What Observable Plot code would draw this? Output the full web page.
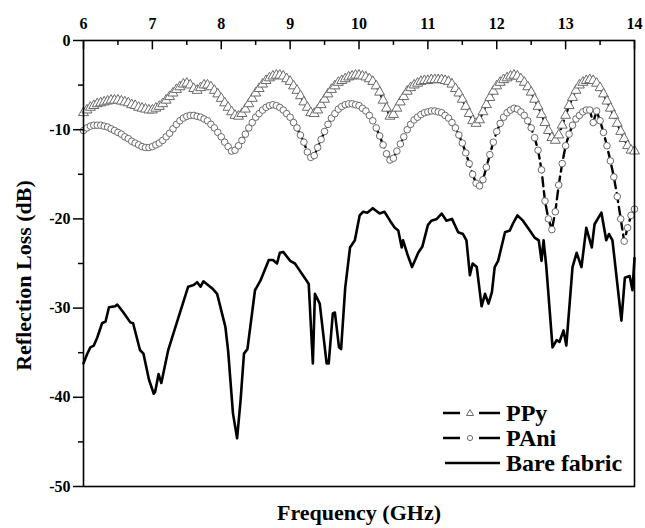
<!DOCTYPE html>
<html><head><meta charset="utf-8">
<script src="https://cdn.jsdelivr.net/npm/d3@7"></script>
<script src="https://cdn.jsdelivr.net/npm/@observablehq/plot@0.6"></script>
<style>
body{margin:0;background:#fff;}
#wrap{position:relative;width:645px;height:528px;font-family:"Liberation Serif","Times New Roman",serif;font-weight:bold;}
.leg{position:absolute;left:443px;height:24px;display:flex;align-items:center;font-size:24px;color:#000;white-space:nowrap;line-height:24px;}
.leg svg{margin-right:5px;display:block;}
</style></head><body><div id="wrap"></div>
<script>
const freq = [
6,6.05,6.1,6.15,6.2,6.25,6.3,6.35,6.4,6.45,6.5,6.55,6.6,6.65,6.7,6.75,6.8,6.85,6.9,6.95,
7,7.05,7.1,7.15,7.2,7.25,7.3,7.35,7.4,7.45,7.5,7.55,7.6,7.65,7.7,7.75,7.8,7.85,7.9,7.95,
8,8.05,8.1,8.15,8.2,8.25,8.3,8.35,8.4,8.45,8.5,8.55,8.6,8.65,8.7,8.75,8.8,8.85,8.9,8.95,
9,9.05,9.1,9.15,9.2,9.25,9.3,9.35,9.4,9.45,9.5,9.55,9.6,9.65,9.7,9.75,9.8,9.85,9.9,9.95,
10,10.05,10.1,10.15,10.2,10.25,10.3,10.35,10.4,10.45,10.5,10.55,10.6,10.65,10.7,10.75,10.8,10.85,10.9,10.95,
11,11.05,11.1,11.15,11.2,11.25,11.3,11.35,11.4,11.45,11.5,11.55,11.6,11.65,11.7,11.75,11.8,11.85,11.9,11.95,
12,12.05,12.1,12.15,12.2,12.25,12.3,12.35,12.4,12.45,12.5,12.55,12.6,12.65,12.7,12.75,12.8,12.85,12.9,12.95,
13,13.05,13.1,13.15,13.2,13.25,13.3,13.35,13.4,13.45,13.5,13.55,13.6,13.65,13.7,13.75,13.8,13.85,13.9,13.95,
14];
const ppy = [
-8.1,-7.8,-7.5,-7.3,-7.1,-7.0,-6.9,-6.8,-6.7,-6.7,-6.7,-6.8,-6.9,-7.0,-7.2,-7.3,-7.5,-7.6,-7.7,-7.8,
-7.8,-7.6,-7.4,-7.1,-6.7,-6.3,-5.9,-5.5,-5.2,-4.9,-4.8,-5.0,-5.4,-5.6,-5.3,-5.0,-5.0,-5.2,-5.6,-6.0,
-6.5,-7.0,-7.5,-8.0,-8.4,-8.5,-8.2,-7.7,-7.1,-6.5,-5.9,-5.4,-4.9,-4.5,-4.2,-4.0,-3.9,-3.9,-4.0,-4.3,
-4.6,-5.1,-5.6,-6.2,-6.9,-7.5,-8.1,-8.2,-7.8,-7.2,-6.6,-6.0,-5.5,-5.1,-4.7,-4.5,-4.3,-4.1,-4.0,-3.9,
-3.9,-4.0,-4.1,-4.3,-4.6,-5.1,-5.8,-6.7,-7.6,-8.5,-8.3,-7.6,-6.9,-6.3,-5.7,-5.3,-5.0,-4.8,-4.6,-4.5,
-4.5,-4.4,-4.4,-4.4,-4.4,-4.5,-4.6,-4.9,-5.4,-5.9,-6.6,-7.4,-8.2,-9.0,-9.3,-8.9,-8.0,-7.2,-6.4,-5.7,
-5.1,-4.7,-4.4,-4.2,-4.0,-3.9,-4.0,-4.3,-4.7,-5.2,-5.8,-6.6,-7.4,-8.3,-9.2,-10.1,-10.9,-11.2,-10.6,-9.5,
-8.4,-7.3,-6.4,-5.6,-5.0,-4.7,-4.5,-4.4,-4.5,-4.8,-5.3,-6.0,-6.8,-7.6,-8.4,-9.3,-10.2,-11.0,-11.8,-12.3,
-12.4];
const pani = [
-10.1,-9.8,-9.6,-9.5,-9.5,-9.5,-9.6,-9.7,-9.9,-10.1,-10.3,-10.5,-10.8,-11.0,-11.3,-11.5,-11.7,-11.9,-12.0,-12.0,
-11.9,-11.7,-11.5,-11.2,-10.8,-10.4,-9.9,-9.4,-9.0,-8.7,-8.5,-8.4,-8.4,-8.5,-8.6,-8.8,-9.0,-9.4,-9.8,-10.3,
-10.8,-11.4,-11.9,-12.4,-12.3,-11.8,-11.2,-10.5,-9.8,-9.2,-8.6,-8.2,-7.8,-7.5,-7.3,-7.2,-7.3,-7.5,-7.8,-8.2,
-8.6,-9.2,-9.8,-10.6,-11.4,-12.5,-13.1,-12.9,-12.0,-11.1,-10.2,-9.4,-8.7,-8.2,-7.7,-7.4,-7.2,-7.1,-7.1,-7.2,
-7.3,-7.6,-7.9,-8.4,-9.0,-9.8,-10.7,-11.7,-12.7,-13.4,-13.2,-12.4,-11.6,-10.8,-10.0,-9.4,-8.9,-8.6,-8.3,-8.1,
-8.0,-7.9,-7.9,-8.0,-8.1,-8.4,-8.7,-9.2,-9.8,-10.6,-11.5,-12.6,-13.8,-15.0,-16.0,-16.3,-15.6,-14.2,-12.8,-11.4,
-10.2,-9.3,-8.6,-8.1,-7.8,-7.6,-7.7,-8.0,-8.4,-9.0,-9.8,-10.9,-12.3,-14.5,-18.0,-20.0,-21.2,-19.2,-16.2,-13.8,
-11.8,-10.5,-9.5,-8.8,-8.4,-8.0,-7.8,-7.8,-9.2,-7.9,-9.0,-10.3,-11.8,-13.5,-15.3,-17.5,-20.0,-22.5,-21.0,-19.6,
-18.9];
const bareFreq = [
6.00,6.05,6.10,6.15,6.20,6.27,6.32,6.37,6.46,6.49,6.58,6.68,6.72,6.82,6.87,6.95,7.02,7.04,7.09,7.13,
7.23,7.38,7.52,7.60,7.65,7.70,7.74,7.87,7.94,8.06,8.10,8.17,8.23,8.28,8.33,8.38,8.49,8.57,8.69,8.75,
8.81,8.85,8.90,9.00,9.07,9.14,9.22,9.27,9.33,9.36,9.43,9.53,9.56,9.62,9.65,9.71,9.74,9.80,9.87,9.94,
10.01,10.06,10.12,10.20,10.30,10.37,10.45,10.52,10.57,10.62,10.64,10.70,10.77,10.86,10.92,11.00,11.05,11.13,11.20,11.27,
11.35,11.44,11.51,11.56,11.61,11.65,11.71,11.78,11.83,11.88,11.93,11.97,12.02,12.12,12.19,12.23,12.30,12.38,12.48,12.55,
12.61,12.65,12.68,12.72,12.81,12.87,12.91,12.97,13.01,13.10,13.16,13.23,13.30,13.38,13.42,13.52,13.59,13.63,13.68,13.81,
13.86,13.93,13.97,14.00];
const bareRL = [
-36.2,-35.2,-34.4,-34.2,-33.3,-31.7,-31.5,-29.9,-29.8,-29.6,-30.5,-31.6,-31.7,-34.7,-35.1,-38.0,-39.6,-39.4,-37.4,-38.4,
-34.7,-31.0,-27.6,-27.4,-27.1,-27.6,-27.0,-27.8,-28.4,-32.1,-34.8,-41.8,-44.6,-40.4,-35.1,-34.6,-28.0,-26.9,-24.6,-24.6,
-25.0,-23.8,-23.7,-24.7,-25.0,-25.8,-26.7,-27.3,-36.2,-28.4,-29.5,-36.2,-36.2,-30.6,-30.5,-34.4,-34.6,-27.7,-23.2,-22.4,
-19.6,-19.2,-19.3,-18.8,-19.4,-19.2,-20.2,-21.0,-21.3,-23.2,-22.4,-23.9,-25.4,-23.8,-23.1,-20.7,-20.2,-20.0,-19.4,-20.2,
-20.0,-21.5,-21.7,-22.4,-26.3,-25.0,-25.4,-29.8,-28.4,-29.5,-28.2,-25.4,-24.7,-21.5,-21.3,-20.6,-19.6,-20.2,-21.3,-22.1,
-22.4,-24.7,-22.4,-25.4,-34.4,-33.6,-33.8,-32.5,-34.2,-25.4,-23.8,-25.4,-21.0,-23.2,-20.6,-19.3,-22.4,-21.7,-22.4,-31.4,
-26.6,-26.4,-28.0,-24.4];
const xTicks = [6,7,8,9,10,11,12,13,14];
const xMinor = [6.5,7.5,8.5,9.5,10.5,11.5,12.5,13.5];
const yTicks = [0,-10,-20,-30,-40,-50];
const yMinor = [-5,-15,-25,-35,-45];
const seriesNames = ["PPy","PAni","Bare fabric"];

const ppyData = freq.map((f,i)=>({f, v: ppy[i]}));
const paniData = freq.map((f,i)=>({f, v: pani[i]}));
const bareData = bareFreq.map((f,i)=>({f, v: bareRL[i]}));

const chart = Plot.plot({
  width:645, height:528, marginLeft:83, marginRight:11, marginTop:40, marginBottom:42,
  x:{domain:[6,14]}, y:{domain:[-50,0]},
  style:{fontFamily:"'Liberation Serif','Times New Roman',serif", fontWeight:"bold", fontSize:"16px", color:"#000", background:"#fff", overflow:"visible"},
  marks:[
    Plot.line(paniData, {x:"f", y:"v", stroke:"#000", strokeWidth:2.4, strokeDasharray:"9,5"}),
    Plot.dot(paniData, {x:"f", y:"v", r:3.3, stroke:"#6a6a6a", fill:"#fff", strokeWidth:1}),
    Plot.line(ppyData, {x:"f", y:"v", stroke:"#000", strokeWidth:2.4, strokeDasharray:"9,5"}),
    Plot.dot(ppyData, {x:"f", y:"v", symbol:"triangle", r:3.7, stroke:"#6a6a6a", fill:"#fff", strokeWidth:1}),
    Plot.line(bareData, {x:"f", y:"v", stroke:"#000", strokeWidth:2.6, strokeLinejoin:"round"}),
    Plot.ruleX(xTicks, {x:d=>d, y1:0, y2:-1.05, stroke:"#000", strokeWidth:1.5}),
    Plot.ruleX(xMinor, {x:d=>d, y1:0, y2:-0.55, stroke:"#000", strokeWidth:1.5}),
    Plot.axisX({anchor:"top", ticks:xTicks, tickSize:0, tickPadding:12, label:null, tickFormat:d=>String(d)}),
    Plot.axisY({ticks:yTicks, tickSize:10, tickPadding:3, label:null, strokeWidth:1.5, tickFormat:d=>String(d)}),
    Plot.axisY({ticks:yMinor, tickSize:5, label:null, strokeWidth:1.5, tickFormat:()=>""}),
    Plot.frame({stroke:"#000", strokeWidth:1.6}),
    Plot.text(["Frequency (GHz)"], {frameAnchor:"bottom", dy:26, lineAnchor:"middle", textAnchor:"middle", fontSize:22, fontWeight:"bold"}),
    Plot.text(["Reflection Loss (dB)"], {frameAnchor:"left", rotate:-90, dx:-60, dy:12, lineAnchor:"middle", textAnchor:"middle", fontSize:22, fontWeight:"bold"})
  ]
});
const wrap = document.getElementById("wrap");
wrap.appendChild(chart);

// legend
const samples = [
  `<line x1="0" y1="12" x2="17" y2="12" stroke="#000" stroke-width="2.5"/><polygon points="27,8.5 23.5,14.5 30.5,14.5" fill="#fff" stroke="#6a6a6a" stroke-width="1"/><line x1="36" y1="12" x2="57" y2="12" stroke="#000" stroke-width="2.5"/>`,
  `<line x1="0" y1="12" x2="17" y2="12" stroke="#000" stroke-width="2.5"/><circle cx="27" cy="12" r="2.6" fill="#fff" stroke="#6a6a6a" stroke-width="1"/><line x1="36" y1="12" x2="57" y2="12" stroke="#000" stroke-width="2.5"/>`,
  `<line x1="2" y1="12" x2="57" y2="12" stroke="#000" stroke-width="2.6"/>`
];
const rowCenters = [413, 438, 463];
seriesNames.forEach((name,i)=>{
  const d = document.createElement("div");
  d.className = "leg";
  d.style.top = (rowCenters[i]-12)+"px";
  d.innerHTML = `<svg width="58" height="24">${samples[i]}</svg><span>${name}</span>`;
  wrap.appendChild(d);
});
</script></body></html>
